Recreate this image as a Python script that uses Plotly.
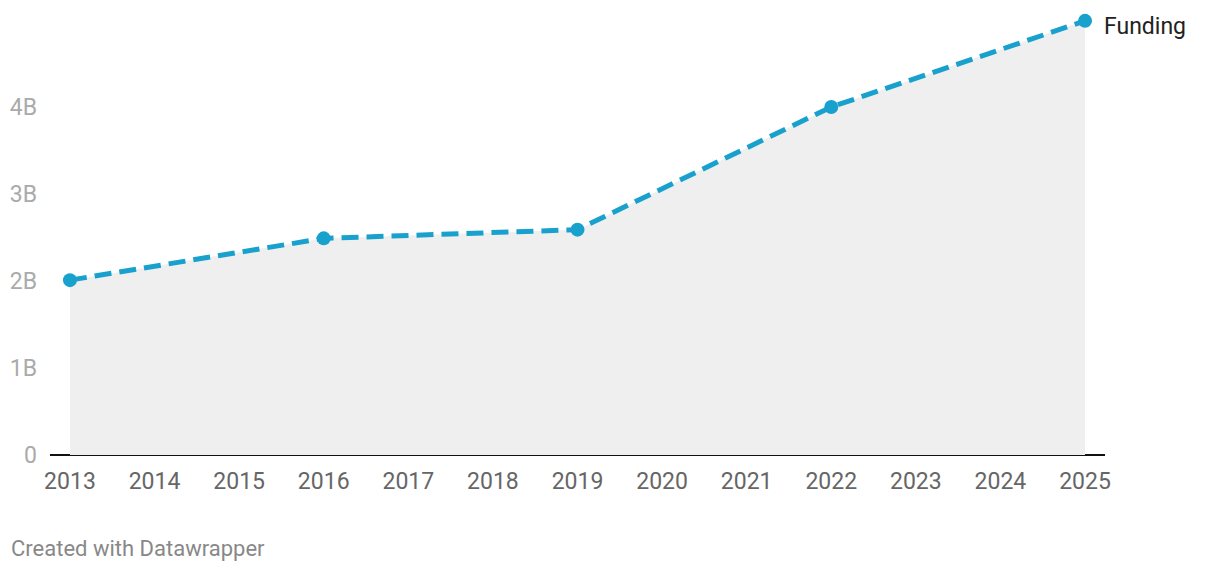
import plotly.graph_objects as go

years = [2013, 2016, 2019, 2022, 2025]
funding_b = [2.01, 2.49, 2.59, 4.0, 4.99]
x_ticks = list(range(2013, 2026))
y_tickvals = [0, 1, 2, 3, 4]
y_ticktext = ["0", "1B", "2B", "3B", "4B"]
series_name = "Funding"

LINE = "#18a1cd"

fig = go.Figure()
fig.add_trace(go.Scatter(
    x=years, y=funding_b, mode="lines", fill="tozeroy",
    fillcolor="#efefef", line=dict(width=0, color="rgba(0,0,0,0)"),
    hoverinfo="skip", showlegend=False))
fig.add_trace(go.Scatter(
    x=years, y=funding_b, mode="lines+markers", name=series_name,
    line=dict(color=LINE, width=5, dash="17px,8px"),
    marker=dict(size=14, color=LINE), cliponaxis=False, showlegend=False))

fig.add_annotation(x=years[-1], y=funding_b[-1], text=series_name, xref="x", yref="y",
                   xanchor="left", yanchor="middle", xshift=17, yshift=-6, showarrow=False,
                   font=dict(family="Roboto", size=23, color="#222"))
fig.add_annotation(x=0, y=0, xref="paper", yref="paper", text="Created with Datawrapper",
                   xanchor="left", yanchor="middle", showarrow=False,
                   xshift=-41, yshift=-93,
                   font=dict(family="Roboto", size=22, color="#888"))

fig.update_layout(
    width=1220, height=572,
    margin=dict(l=42, r=123, t=12, b=125),
    paper_bgcolor="white", plot_bgcolor="white",
    font=dict(family="Roboto"),
    xaxis=dict(range=[2012.764, 2025.236], tickvals=x_ticks,
               ticktext=[str(v) for v in x_ticks], showgrid=False, zeroline=False,
               showline=False, ticks="", ticklabelstandoff=10, automargin=False,
               tickfont=dict(size=23, color="#666")),
    yaxis=dict(range=[0, 5], tickvals=y_tickvals, ticktext=y_ticktext,
               showgrid=False, zeroline=True, zerolinecolor="#111", zerolinewidth=2,
               showline=False, ticks="", ticklabelstandoff=12, automargin=False,
               tickfont=dict(size=23, color="#aaa")),
)

fig.write_html("out.html")
